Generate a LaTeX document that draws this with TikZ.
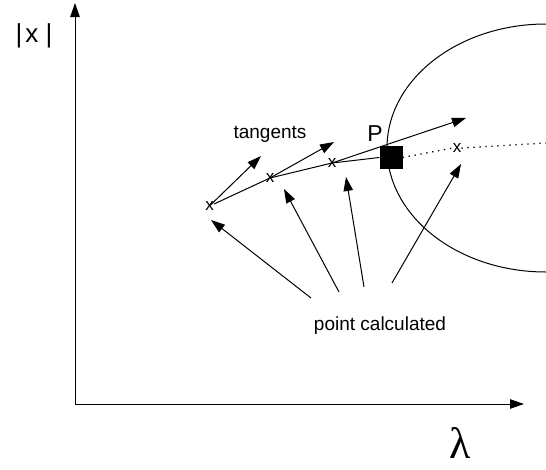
\documentclass[tikz,border=0pt]{standalone}
\usepackage{fontspec}
\setmainfont{Liberation Sans}
\newfontfamily\serifl{Liberation Serif}
\usetikzlibrary{arrows.meta}
\begin{document}
\begin{tikzpicture}[x=1pt,y=-1pt,
  ln/.style={line width=1pt},
  arr/.style={ln,-{Triangle[length=14pt,width=9.5pt]}},
  lbl/.style={inner sep=0pt,font=\fontsize{19}{22}\selectfont},
  xm/.style={inner sep=0pt,font=\fontsize{17}{19}\selectfont},
  dots/.style={line width=1.3pt,dash pattern=on 1.3pt off 4.7pt}]
\useasboundingbox (0,0) rectangle (546,469);
% axes
\coordinate (O) at (75,404);
\coordinate (ytop) at (75,3);
\coordinate (xend) at (524,404);
\draw[arr] (O) -- (ytop);
\draw[arr] (O) -- (xend);
\node[inner sep=0pt,font=\fontsize{26}{28}\selectfont] (ylab) at (34,36) {|\kern3pt x |};
\node[inner sep=0pt,font=\serifl\fontsize{44}{48}\selectfont] (xlab) at (460,443) {λ};
% ellipse
\begin{scope}
\clip (0,0) rectangle (546,469);
\draw[ln] (546,148) ellipse [x radius=159, y radius=124];
\end{scope}
% points
\node[xm] (x1) at (209.5,206) {x};
\node[xm] (x2) at (270,178) {x};
\node[xm] (x3) at (332,163) {x};
\node[xm] (x4) at (457,148) {x};
\node[fill=black,minimum size=23pt,inner sep=0pt] (sq) at (391,157.5) {};
\node[inner sep=0pt,font=\fontsize{23}{26}\selectfont] (P) at (375,134) {P};
% curve
\draw[ln] (214,204) -- (x2.center) -- (x3.center) -- (sq.west);
\coordinate (rend) at (546,143);
\draw[dots] (sq.east) -- (x4.west);
\draw[dots] (x4.east) -- (rend);
% tangents
\coordinate (t1) at (261,156);
\coordinate (t2) at (334,142);
\coordinate (t3) at (466,118);
\draw[arr] (x1.center) -- (t1);
\draw[arr] (x2.center) -- (t2);
\draw[arr] (x3.center) -- (t3);
\node[lbl] (tang) at (270,134) {tangents};
% pointers
\node[lbl] (pc) at (380,326) {point calculated};
\coordinate (s1) at (311,298);
\coordinate (s2) at (339,292);
\coordinate (s3) at (364,287);
\coordinate (s4) at (392,283);
\coordinate (p1) at (211,220);
\coordinate (p2) at (284,189);
\coordinate (p3) at (346,177);
\coordinate (p4) at (461,164);
\draw[arr] (s1) -- (p1);
\draw[arr] (s2) -- (p2);
\draw[arr] (s3) -- (p3);
\draw[arr] (s4) -- (p4);
\end{tikzpicture}
\end{document}
